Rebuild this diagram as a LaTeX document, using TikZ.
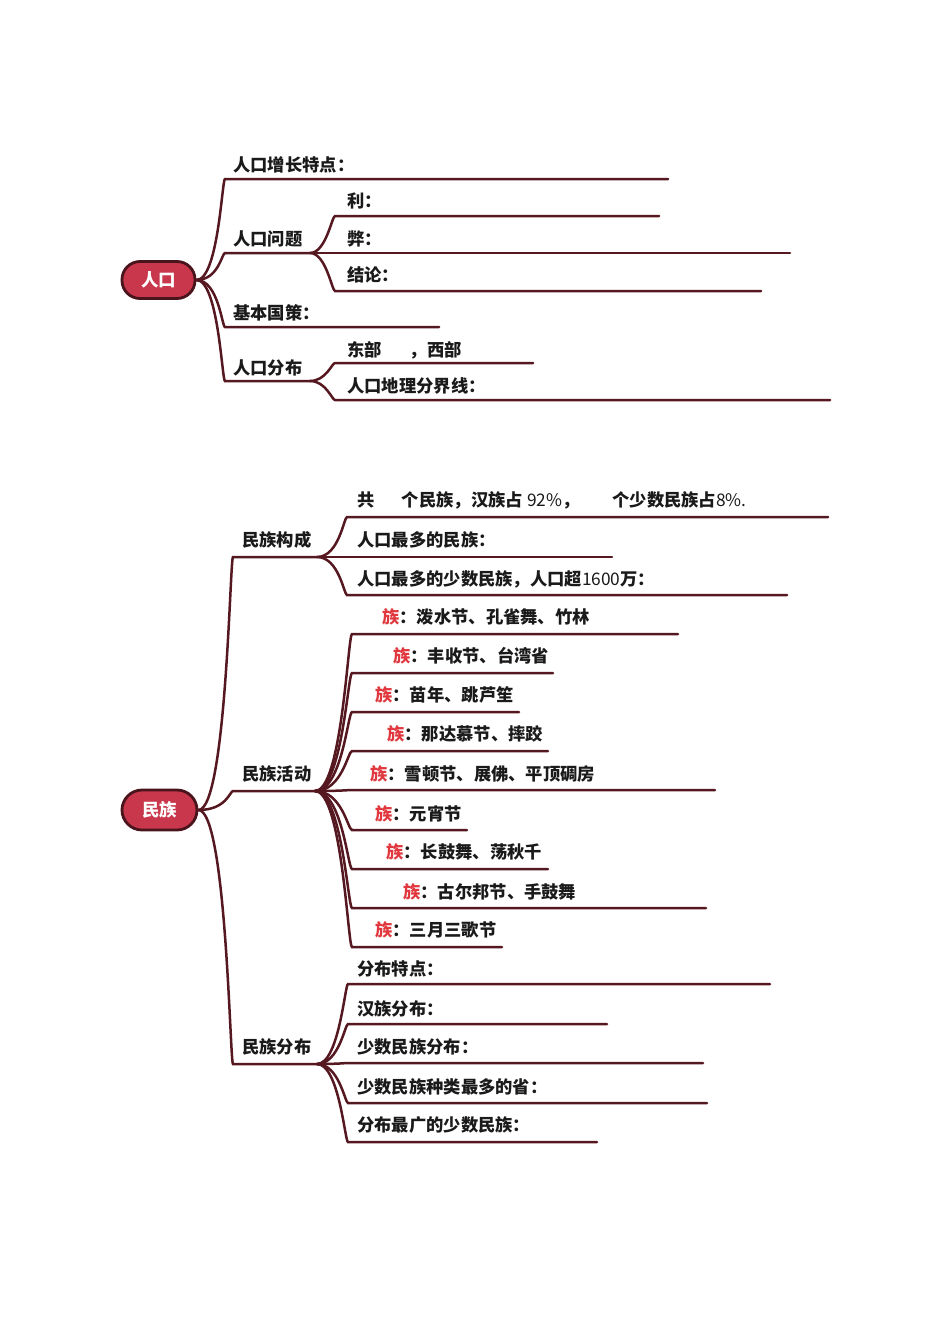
\documentclass[tikz,border=0pt]{standalone}
\usepackage{fontspec}
\setmainfont{Noto Sans CJK SC}
\definecolor{conncol}{HTML}{561820}
\definecolor{rootfill}{HTML}{C8374B}
\definecolor{rootdraw}{HTML}{4A141C}
\definecolor{zured}{HTML}{E0383E}
\definecolor{txt}{HTML}{1A1A1A}
\newcommand\zuz{\textcolor{zured}{族}}
\begin{document}
\begin{tikzpicture}[x=1pt,y=-1pt,
  conn/.style={draw=conncol, line width=2.5pt, line cap=round},
  lbl/.style={anchor=base west, inner sep=0pt, text=txt, font=\fontsize{17.3pt}{20pt}\selectfont\bfseries},
  rootnode/.style={draw=rootdraw, fill=rootfill, line width=2.8pt, rounded corners=18pt, minimum height=37pt, inner sep=0pt, text=white, font=\fontsize{17.5pt}{20pt}\selectfont\bfseries},
]
\fill[white] (0,0) rectangle (950,1344);
\useasboundingbox (0,0) rectangle (950,1344);

% ---------------- top map ----------------
\node[rootnode, minimum width=73pt] (R1) at (158.5,280) {人口};

\coordinate (a1s) at (225,179);  \coordinate (a1e) at (668,179);
\coordinate (a2s) at (225,253);  \coordinate (a2e) at (310,253);
\coordinate (a3s) at (225,327);  \coordinate (a3e) at (439,327);
\coordinate (a4s) at (225,381);  \coordinate (a4e) at (310,381);
\coordinate (a21s) at (335,216); \coordinate (a21e) at (659,216);
\coordinate (a22s) at (335,253); \coordinate (a22e) at (790,253);
\coordinate (a23s) at (335,291); \coordinate (a23e) at (761,291);
\coordinate (a41s) at (335,363); \coordinate (a41e) at (533,363);
\coordinate (a42s) at (335,400); \coordinate (a42e) at (830,400);

\node[lbl] (a1) at (233,171.5) {人口增长特点：};
\node[lbl] (a2) at (233,245.5) {人口问题};
\node[lbl] (a3) at (233,319.5) {基本国策：};
\node[lbl] (a4) at (233,374.5) {人口分布};
\node[lbl] (a21) at (347,207.5) {利：};
\node[lbl] (a22) at (347,245.5) {弊：};
\node[lbl] (a23) at (347,281.5) {结论：};
\node[lbl] (a41) at (347,356) {东部\hspace{28pt}，西部};
\node[lbl] (a42) at (347,392.5) {人口地理分界线：};

\foreach \c in {a1,a2,a3,a4}
  \draw[conn] (R1.east) .. controls +(22,0) and +(-3,0) .. (\c s) -- (\c e);
\foreach \c in {a21,a22,a23}
  \draw[conn] (a2e) .. controls +(16,0) and +(-3,0) .. (\c s) -- (\c e);
\foreach \c in {a41,a42}
  \draw[conn] (a4e) .. controls +(16,0) and +(-3,0) .. (\c s) -- (\c e);

% ---------------- bottom map ----------------
\node[rootnode, minimum width=75pt, minimum height=40pt, rounded corners=20pt] (R2) at (159.5,810) {民族};

\coordinate (b1s) at (233,557);  \coordinate (b1e) at (317,557);
\coordinate (b2s) at (233,791);  \coordinate (b2e) at (315,791);
\coordinate (b3s) at (233,1064); \coordinate (b3e) at (317,1064);

\node[lbl] (b1) at (242,546.5) {民族构成};
\node[lbl] (b2) at (242,780.5) {民族活动};
\node[lbl] (b3) at (242,1053.5) {民族分布};

\foreach \c in {b1,b2,b3}
  \draw[conn] (R2.east) .. controls +(28,0) and +(-3,0) .. (\c s) -- (\c e);

% children of 民族构成
\coordinate (b11s) at (347,517); \coordinate (b11e) at (828,517);
\coordinate (b12s) at (347,557); \coordinate (b12e) at (612,557);
\coordinate (b13s) at (347,595); \coordinate (b13e) at (787,595);
\node[lbl] (b11) at (357,506.5) {共\hspace{27.5pt}个民族，汉族占 {\mdseries 92\%}，\hspace{33pt}个少数民族占{\mdseries 8\%.}};
\node[lbl] (b12) at (357,546.5) {人口最多的民族：};
\node[lbl] (b13) at (357,585.5) {人口最多的少数民族，人口超{\mdseries 1600}万：};
\foreach \c in {b11,b12,b13}
  \draw[conn] (b1e) .. controls +(22,0) and +(-3,0) .. (\c s) -- (\c e);

% children of 民族活动
\coordinate (b21s) at (352,634); \coordinate (b21e) at (678,634);
\coordinate (b22s) at (352,673); \coordinate (b22e) at (553,673);
\coordinate (b23s) at (352,712); \coordinate (b23e) at (519,712);
\coordinate (b24s) at (352,751); \coordinate (b24e) at (548,751);
\coordinate (b25s) at (352,790); \coordinate (b25e) at (715,790);
\coordinate (b26s) at (352,830); \coordinate (b26e) at (467,830);
\coordinate (b27s) at (352,869); \coordinate (b27e) at (548,869);
\coordinate (b28s) at (352,908); \coordinate (b28e) at (706,908);
\coordinate (b29s) at (352,947); \coordinate (b29e) at (502,947);
\node[lbl] (b21) at (382,623.5) {\zuz：泼水节、孔雀舞、竹林};
\node[lbl] (b22) at (393,662) {\zuz：丰收节、台湾省};
\node[lbl] (b23) at (375,701.5) {\zuz：苗年、跳芦笙};
\node[lbl] (b24) at (387,740.5) {\zuz：那达慕节、摔跤};
\node[lbl] (b25) at (370,780.5) {\zuz：雪顿节、展佛、平顶碉房};
\node[lbl] (b26) at (375,820.5) {\zuz：元宵节};
\node[lbl] (b27) at (386,858.5) {\zuz：长鼓舞、荡秋千};
\node[lbl] (b28) at (403,898.5) {\zuz：古尔邦节、手鼓舞};
\node[lbl] (b29) at (375,936.5) {\zuz：三月三歌节};
\foreach \c in {b21,b22,b23,b24,b25,b26,b27,b28,b29}
  \draw[conn] (b2e) .. controls +(27,0) and +(-4,0) .. (\c s) -- (\c e);

% children of 民族分布
\coordinate (b31s) at (348,984);  \coordinate (b31e) at (770,984);
\coordinate (b32s) at (348,1024); \coordinate (b32e) at (607,1024);
\coordinate (b33s) at (348,1063); \coordinate (b33e) at (703,1063);
\coordinate (b34s) at (348,1103); \coordinate (b34e) at (707,1103);
\coordinate (b35s) at (348,1142); \coordinate (b35e) at (597,1142);
\node[lbl] (b31) at (357,975.5) {分布特点：};
\node[lbl] (b32) at (357,1015.5) {汉族分布：};
\node[lbl] (b33) at (357,1053.5) {少数民族分布：};
\node[lbl] (b34) at (357,1093.5) {少数民族种类最多的省：};
\node[lbl] (b35) at (357,1131.5) {分布最广的少数民族：};
\foreach \c in {b31,b32,b33,b34,b35}
  \draw[conn] (b3e) .. controls +(22,0) and +(-3,0) .. (\c s) -- (\c e);
\end{tikzpicture}
\end{document}
